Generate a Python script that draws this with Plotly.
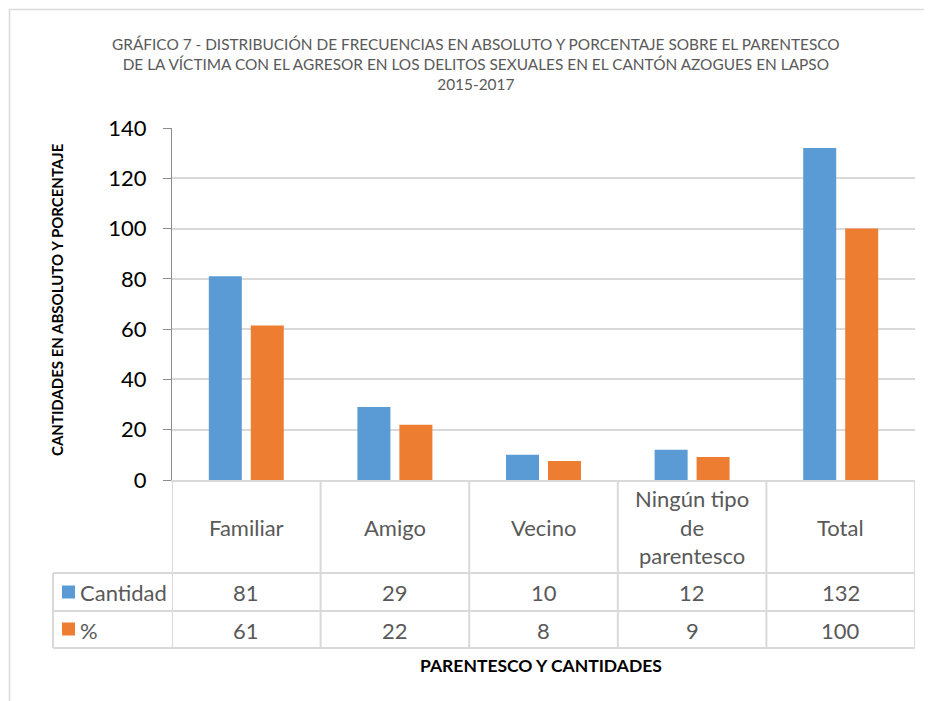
import plotly.graph_objects as go

categorias = ["Familiar", "Amigo", "Vecino", "Ningún tipo<br>de<br>parentesco", "Total"]
cantidad = [81, 29, 10, 12, 132]
porcentaje = [61.4, 22.0, 7.6, 9.1, 100.0]
series = ["Cantidad", "%"]

AZUL = "#5B9BD5"
NARANJA = "#ED7D31"
GRIS_TXT = "#595959"
GRIS_LINEA = "#D9D9D9"
FUENTE = "Lato"

# la página deja 8 px de margen en el body
OFF = 8
W, H = 932 - OFF, 701 - OFF
L, R, T, B = 172 - OFF, 17, 128 - OFF, 221
PW, PH = W - L - R, H - T - B


def px_x(p):
    return (p - OFF - L) / PW


def px_y(p):
    return (H - B - (p - OFF)) / PH


fig = go.Figure()
fig.add_trace(go.Bar(x=list(range(len(categorias))), y=cantidad, name=series[0],
                     marker=dict(color=AZUL, line=dict(width=0))))
fig.add_trace(go.Bar(x=list(range(len(categorias))), y=porcentaje, name=series[1],
                     marker=dict(color=NARANJA, line=dict(width=0))))

shapes = []
# borde del gráfico
shapes.append(dict(type="rect", xref="paper", yref="paper",
                   x0=px_x(9.5), x1=px_x(960), y0=px_y(9.5), y1=px_y(720),
                   line=dict(color=GRIS_LINEA, width=1.5), layer="below"))
# tabla de datos
fila_top, fila_mid, fila_bot = 573, 611, 648
for yy in (fila_top, fila_mid, fila_bot):
    shapes.append(dict(type="line", xref="paper", yref="paper",
                       x0=px_x(53), x1=1, y0=px_y(yy), y1=px_y(yy),
                       line=dict(color=GRIS_LINEA, width=2)))
shapes.append(dict(type="line", xref="paper", yref="paper",
                   x0=px_x(53), x1=px_x(53), y0=px_y(fila_top), y1=px_y(fila_bot),
                   line=dict(color=GRIS_LINEA, width=2)))
for i in range(len(categorias) + 1):
    shapes.append(dict(type="line", xref="x", yref="paper",
                       x0=i - 0.5, x1=i - 0.5, y0=0, y1=px_y(fila_bot),
                       line=dict(color=GRIS_LINEA, width=2)))
# claves de la leyenda
for yc, col in ((592, AZUL), (629, NARANJA)):
    shapes.append(dict(type="rect", xref="paper", yref="paper",
                       x0=px_x(62), x1=px_x(75), y0=px_y(yc - 6.5), y1=px_y(yc + 6.5),
                       fillcolor=col, line=dict(width=0)))

fuente_tabla = dict(size=22, color=GRIS_TXT, family=FUENTE)
anns = []
for i, cat in enumerate(categorias):
    anns.append(dict(x=i, y=px_y(527), xref="x", yref="paper", text=cat,
                     xanchor="center", yanchor="middle", showarrow=False, font=fuente_tabla))
    anns.append(dict(x=i, y=px_y(592), xref="x", yref="paper", text=f"{cantidad[i]:.0f}",
                     xanchor="center", yanchor="middle", showarrow=False, font=fuente_tabla))
    anns.append(dict(x=i, y=px_y(630), xref="x", yref="paper", text=f"{porcentaje[i]:.0f}",
                     xanchor="center", yanchor="middle", showarrow=False, font=fuente_tabla))
for yc, s in zip((592, 630), series):
    anns.append(dict(x=px_x(78), y=px_y(yc), xref="paper", yref="paper", text=s,
                     xanchor="left", yanchor="middle", showarrow=False, font=fuente_tabla))

anns.append(dict(x=px_x(476), y=px_y(64), xref="paper", yref="paper",
                 text="GRÁFICO 7 - DISTRIBUCIÓN DE FRECUENCIAS EN ABSOLUTO Y PORCENTAJE SOBRE EL PARENTESCO"
                      "<br>DE LA VÍCTIMA CON EL AGRESOR EN LOS DELITOS SEXUALES EN EL CANTÓN AZOGUES EN LAPSO"
                      "<br>2015-2017",
                 xanchor="center", yanchor="middle", showarrow=False,
                 font=dict(size=15.4, color=GRIS_TXT, family=FUENTE)))
anns.append(dict(x=px_x(541), y=px_y(665), xref="paper", yref="paper",
                 text="<b>PARENTESCO Y CANTIDADES</b>", showarrow=False,
                 xanchor="center", yanchor="middle",
                 font=dict(size=17.5, color="black", family=FUENTE)))
anns.append(dict(x=px_x(57), y=px_y(299), xref="paper", yref="paper",
                 text="<b>CANTIDADES EN ABSOLUTO Y PORCENTAJE</b>", textangle=-90,
                 xanchor="center", yanchor="middle", showarrow=False,
                 font=dict(size=15, color="black", family=FUENTE)))

fig.update_layout(
    width=W, height=H,
    margin=dict(l=L, r=R, t=T, b=B, autoexpand=False),
    paper_bgcolor="white", plot_bgcolor="white",
    barmode="group", bargap=0.435, bargroupgap=0.214,
    showlegend=False,
    shapes=shapes, annotations=anns,
    font=dict(family=FUENTE),
)
fig.update_xaxes(range=[-0.5, len(categorias) - 0.5], showticklabels=False, ticks="",
                 showgrid=False, showline=True, linecolor=GRIS_LINEA, linewidth=2,
                 zeroline=False)
fig.update_yaxes(range=[0, 140], dtick=20, showgrid=True, gridcolor=GRIS_LINEA, gridwidth=2,
                 showline=True, linecolor="#8C8C8C", linewidth=1, ticks="outside", ticklen=8,
                 tickcolor="#8C8C8C", zeroline=False, ticklabelstandoff=12,
                 tickfont=dict(size=22, color="black", family=FUENTE))

fig.write_html("out.html")
